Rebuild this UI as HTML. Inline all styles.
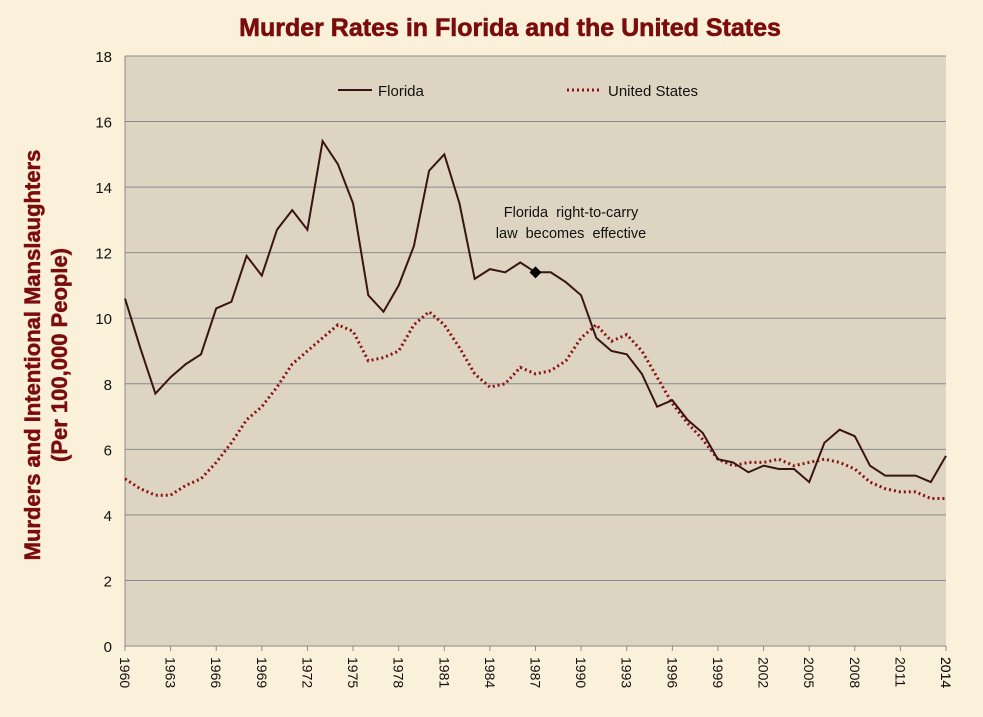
<!DOCTYPE html>
<html><head><meta charset="utf-8"><style>
body{margin:0;width:983px;height:712px;overflow:hidden;background:#fbf0d9;font-family:"Liberation Sans",sans-serif}
</style></head><body>
<svg id="s" width="983" height="712" xmlns="http://www.w3.org/2000/svg" font-family="Liberation Sans, sans-serif">
<rect width="983" height="712" fill="#fbf0d9"/>
<rect x="125" y="56" width="821" height="590" fill="#ddd5c2"/>
<text x="510" y="36" text-anchor="middle" font-size="25" font-weight="bold" fill="#7a0c0c" stroke="#7a0c0c" stroke-width="0.6">Murder Rates in Florida and the United States</text>
<g transform="translate(40,355) rotate(-90)" text-anchor="middle" font-weight="bold" font-size="22" fill="#7a0c0c" stroke="#7a0c0c" stroke-width="0.5">
<text x="0" y="0">Murders and Intentional Manslaughters</text>
<text x="0" y="27">(Per 100,000 People)</text></g>
<g id="grid"></g>
<line x1="338" y1="90" x2="372" y2="90" stroke="#3a1414" stroke-width="2"/>
<text x="378" y="96" font-size="15" fill="#111">Florida</text>
<line x1="567" y1="90" x2="601" y2="90" stroke="#8b1010" stroke-width="3" stroke-dasharray="2,3"/>
<text x="608" y="96" font-size="15" fill="#111">United States</text>
<text x="571" y="217" text-anchor="middle" font-size="14.5" word-spacing="4" fill="#111">Florida right-to-carry</text>
<text x="571" y="238" text-anchor="middle" font-size="14.5" word-spacing="4" fill="#111">law becomes effective</text>
</svg>
<script>
var s=document.getElementById('s'),g=document.getElementById('grid'),ns='http://www.w3.org/2000/svg';
function X(y){return 125+(y-1960)*821/54}function Y(v){return 646-v*590/18}
function el(t,a,p,txt){var e=document.createElementNS(ns,t);for(var k in a)e.setAttribute(k,a[k]);if(txt!=null)e.textContent=txt;(p||s).appendChild(e);return e}
for(var v=0;v<=18;v+=2){if(v>0)el('line',{x1:125,x2:946,y1:Y(v),y2:Y(v),stroke:'#8a8a8a','stroke-width':1},g);
el('text',{x:112,y:Y(v)+6,'text-anchor':'end','font-size':15,fill:'#111'},g,v);}
el('line',{x1:125,x2:125,y1:56,y2:646,stroke:'#8a8a8a'},g);el('line',{x1:125,x2:946,y1:646,y2:646,stroke:'#8a8a8a'},g);
for(var yr=1960;yr<=2014;yr+=3){var x=X(yr);
el('line',{x1:x,x2:x,y1:646,y2:651,stroke:'#8a8a8a'},g);
el('text',{transform:'translate('+(x-5)+',657) rotate(90)','font-size':14,fill:'#111'},g,yr);}
el('line',{x1:946,x2:946,y1:646,y2:651,stroke:'#8a8a8a'},g);
el('text',{transform:'translate(941,657) rotate(90)','font-size':14,fill:'#111'},g,2014);
var F=[10.6,9.1,7.7,8.2,8.6,8.9,10.3,10.5,11.9,11.3,12.7,13.3,12.7,15.4,14.7,13.5,10.7,10.2,11.0,12.2,14.5,15.0,13.5,11.2,11.5,11.4,11.7,11.4,11.4,11.1,10.7,9.4,9.0,8.9,8.3,7.3,7.5,6.9,6.5,5.7,5.6,5.3,5.5,5.4,5.4,5.0,6.2,6.6,6.4,5.5,5.2,5.2,5.2,5.0,5.8];
var U=[5.1,4.8,4.6,4.6,4.9,5.1,5.6,6.2,6.9,7.3,7.9,8.6,9.0,9.4,9.8,9.6,8.7,8.8,9.0,9.8,10.2,9.8,9.1,8.3,7.9,8.0,8.5,8.3,8.4,8.7,9.4,9.8,9.3,9.5,9.0,8.2,7.4,6.8,6.3,5.7,5.5,5.6,5.6,5.7,5.5,5.6,5.7,5.6,5.4,5.0,4.8,4.7,4.7,4.5,4.5];
function pts(a){return a.map(function(v,i){return X(1960+i).toFixed(1)+','+Y(v).toFixed(1)}).join(' ')}
el('polyline',{points:pts(U),fill:'none',stroke:'#8b1010','stroke-width':3,'stroke-dasharray':'2,3'});
el('polyline',{points:pts(F),fill:'none',stroke:'#3a1414','stroke-width':2});
var cx=X(1987),cy=Y(11.4);
el('polygon',{points:(cx)+','+(cy-6)+' '+(cx+6)+','+cy+' '+cx+','+(cy+6)+' '+(cx-6)+','+cy,fill:'#000'});
</script>
</body></html>
